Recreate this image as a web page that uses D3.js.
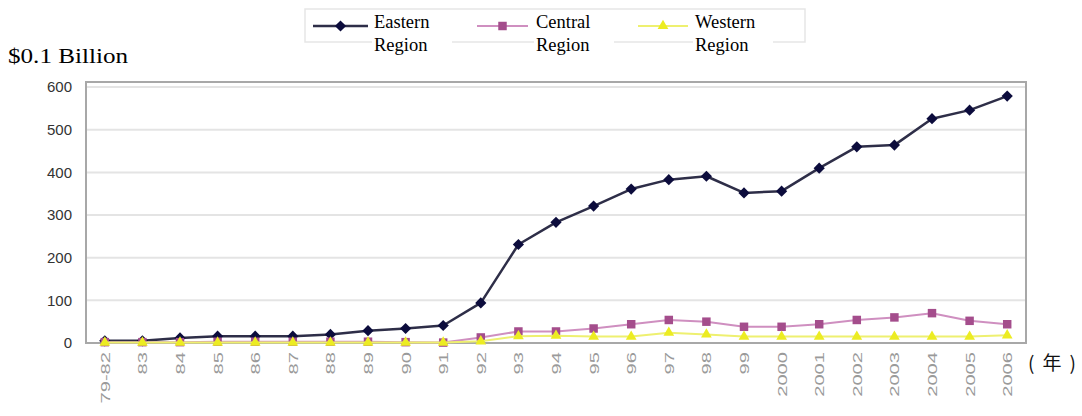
<!DOCTYPE html>
<html>
<head>
<meta charset="utf-8">
<script src="https://cdn.jsdelivr.net/npm/d3@7"></script>
<style>
  html, body { margin: 0; padding: 0; background: #fff; }
  svg { display: block; }
</style>
</head>
<body>
<svg id="chart" width="1082" height="416"></svg>
<script>
// Categories (years) and the three regional series, unit: $0.1 billion
const categories = ["79-82","83","84","85","86","87","88","89","90","91","92","93","94","95","96","97","98","99","2000","2001","2002","2003","2004","2005","2006"];
const eastern = [5,5,12,16,16,16,20,29,34,41,94,231,283,321,361,383,391,352,356,410,460,464,526,546,579];
const central = [2,2,2,3,3,3,3,3,2,1,13,27,27,34,44,54,50,38,38,44,54,60,70,52,44];
const western = [1,1,1,1,1,1,1,1,1,1,4,16,17,15,15,24,20,15,15,15,15,15,15,15,18];
const yTicks = [0,100,200,300,400,500,600];
const seriesNames = ["Eastern", "Central", "Western"];

const svg = d3.select("#chart");

const plot = { left: 86, right: 1026, top: 82, bottom: 343 };

const x = d3.scalePoint().domain(categories).range([plot.left, plot.right]).padding(0.5);
const y = d3.scaleLinear().domain([0, 612]).range([plot.bottom, plot.top]);

// Gridlines
svg.append("g")
  .selectAll("line")
  .data(yTicks.filter(d => d > 0))
  .join("line")
  .attr("x1", plot.left).attr("x2", plot.right)
  .attr("y1", d => y(d)).attr("y2", d => y(d))
  .attr("stroke", "#e4e4e4").attr("stroke-width", 2);

// Plot frame
svg.append("rect")
  .attr("x", plot.left).attr("y", plot.top)
  .attr("width", plot.right - plot.left).attr("height", plot.bottom - plot.top)
  .attr("fill", "none").attr("stroke", "#a8a8a8").attr("stroke-width", 2);

// Y axis labels
const yAxis = d3.axisLeft(y).tickValues(yTicks).tickSize(0).tickPadding(14);
const gy = svg.append("g").attr("transform", `translate(${plot.left},0)`).call(yAxis);
gy.select(".domain").remove();
gy.selectAll("text")
  .attr("font-family", "Liberation Sans, Arial, sans-serif")
  .attr("font-size", 15).attr("fill", "#333");

// X axis labels (rotated, reading upward)
const xAxis = d3.axisBottom(x).tickSize(0).tickPadding(0);
const gx = svg.append("g").attr("transform", `translate(0,${plot.bottom})`).call(xAxis);
gx.select(".domain").remove();
gx.selectAll("text")
  .attr("font-family", "Liberation Sans, Arial, sans-serif")
  .attr("font-size", 13).attr("fill", "#9a9a9a")
  .attr("text-anchor", "end")
  .attr("dy", "0.35em")
  .attr("transform", "translate(0,9) rotate(-90) scale(1.55,1)");

// Unit label
svg.append("text")
  .attr("x", 8).attr("y", 63)
  .attr("font-family", "Liberation Serif, Times New Roman, serif")
  .attr("font-size", 22).attr("fill", "#000")
  .attr("textLength", 120).attr("lengthAdjust", "spacingAndGlyphs")
  .text("$0.1 Billion");

// Year unit label
svg.append("text")
  .attr("x", 1028).attr("y", 370)
  .attr("font-family", "Noto Sans CJK SC, sans-serif")
  .attr("font-size", 19).attr("fill", "#111")
  .attr("textLength", 48).attr("lengthAdjust", "spacing")
  .text("(年)");

// Marker shapes
const diamond = d3.symbol().type(d3.symbolDiamond2).size(80);
const square = d3.symbol().type(d3.symbolSquare).size(72);
const triangle = d3.symbol().type(d3.symbolTriangle).size(50);

const series = [
  { name: seriesNames[0], values: eastern, line: "#2e2e48", lw: 2.5, fill: "#0c0c3c", shape: diamond },
  { name: seriesNames[1], values: central, line: "#cf8fc0", lw: 2, fill: "#a44d8c", shape: square },
  { name: seriesNames[2], values: western, line: "#eef070", lw: 2, fill: "#ecec22", shape: triangle }
];

const line = d3.line().x((d, i) => x(categories[i])).y(d => y(d));

// Eastern first, so the smaller series sit on top near zero
const layers = svg.append("g");
series.forEach(s => {
  const g = layers.append("g");
  g.append("path")
    .datum(s.values)
    .attr("d", line)
    .attr("fill", "none")
    .attr("stroke", s.line)
    .attr("stroke-width", s.lw)
    .attr("stroke-linejoin", "round");
  g.selectAll("path.m")
    .data(s.values)
    .join("path")
    .attr("class", "m")
    .attr("d", s.shape)
    .attr("transform", (d, i) => `translate(${x(categories[i])},${y(d)})`)
    .attr("fill", s.fill);
});

// Legend
const legend = svg.append("g");
legend.append("rect")
  .attr("x", 305).attr("y", 9).attr("width", 500).attr("height", 33)
  .attr("fill", "#fff").attr("stroke", "#e6e6e6").attr("stroke-width", 1.5);

const legendItems = [
  { s: series[0], x1: 313, x2: 368, tx: 374 },
  { s: series[1], x1: 477, x2: 528, tx: 536 },
  { s: series[2], x1: 638, x2: 688, tx: 695 }
];
legendItems.forEach(it => {
  const ly = 26;
  legend.append("rect")
    .attr("x", it.tx - 2).attr("y", 11).attr("width", 80).attr("height", 46)
    .attr("fill", "#fff");
  legend.append("line")
    .attr("x1", it.x1).attr("x2", it.x2).attr("y1", ly).attr("y2", ly)
    .attr("stroke", it.s.line).attr("stroke-width", it.s.lw);
  legend.append("path")
    .attr("d", it.s.shape)
    .attr("transform", `translate(${(it.x1 + it.x2) / 2},${ly})`)
    .attr("fill", it.s.fill);
  const t = legend.append("text")
    .attr("x", it.tx).attr("y", 28)
    .attr("font-family", "Liberation Serif, Times New Roman, serif")
    .attr("font-size", 18.5).attr("fill", "#000");
  t.append("tspan").attr("x", it.tx).attr("dy", 0).text(it.s.name);
  t.append("tspan").attr("x", it.tx).attr("dy", 23).text("Region");
});
</script>
</body>
</html>
